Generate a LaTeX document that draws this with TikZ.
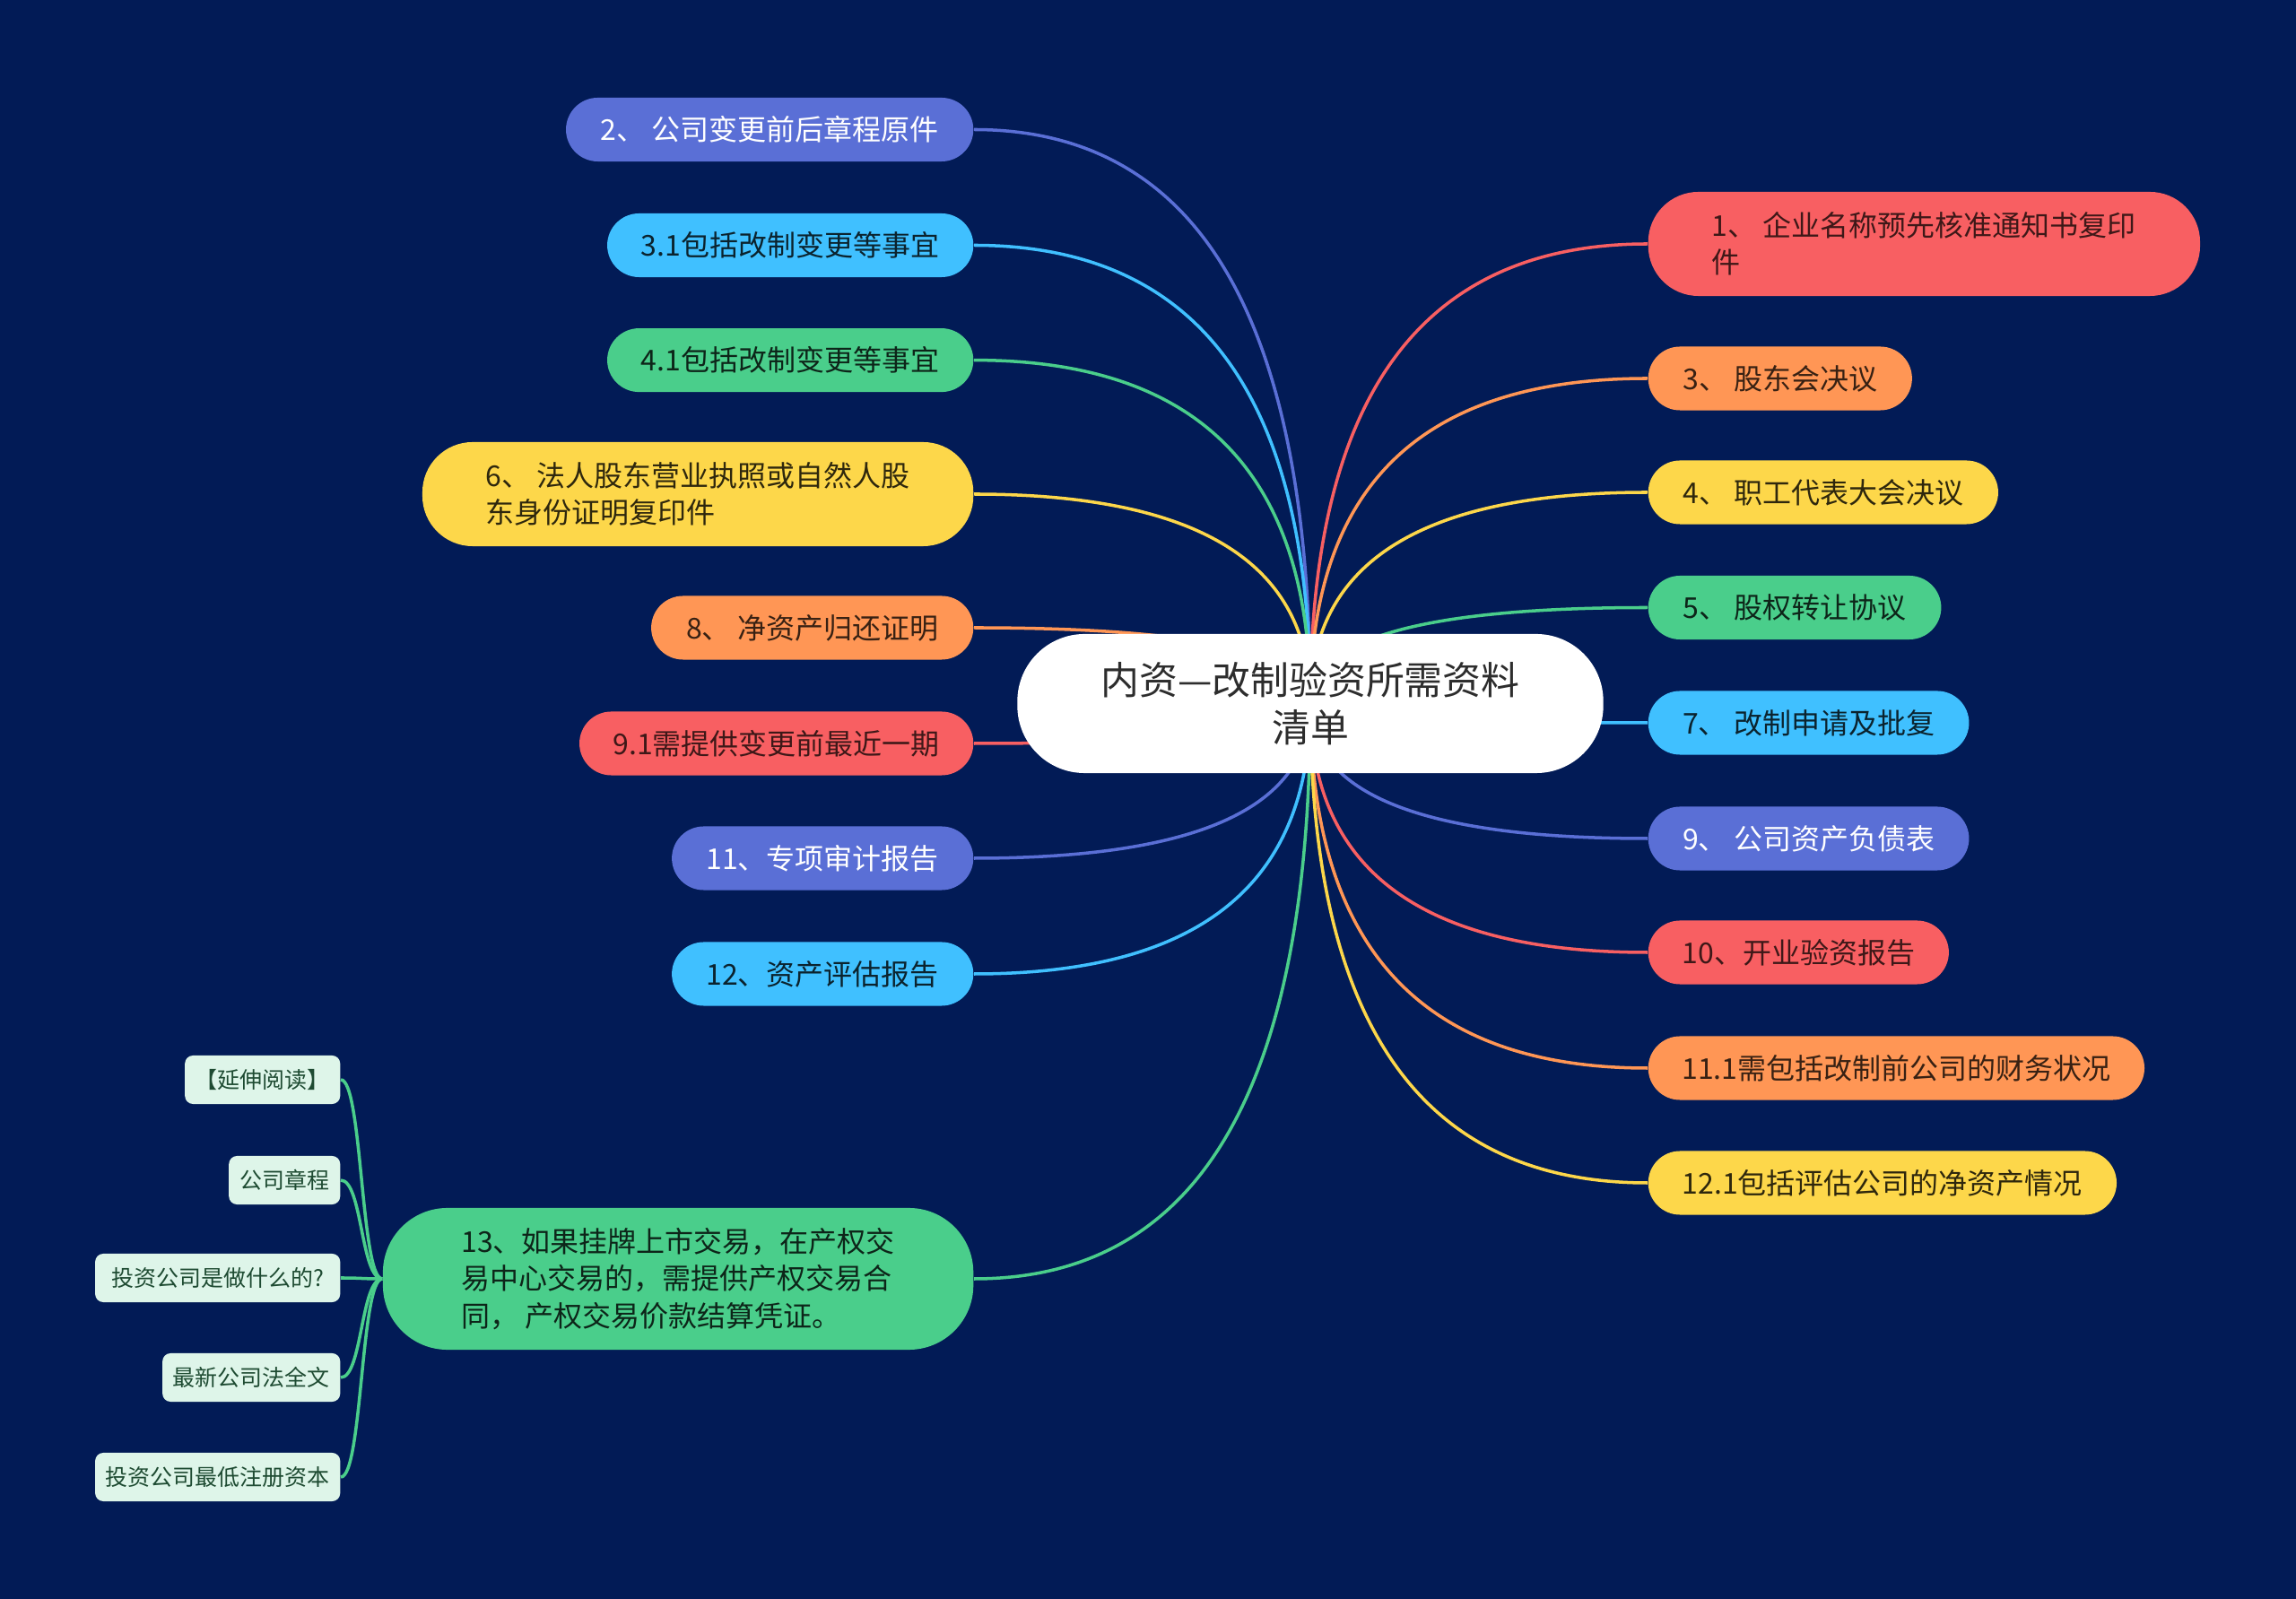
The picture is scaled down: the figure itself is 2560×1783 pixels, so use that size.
\documentclass[tikz,border=0pt]{standalone}
\usepackage{fontspec}
\newfontfamily\cjk{Noto Sans CJK SC}
\usetikzlibrary{calc}
\definecolor{bgnavy}{RGB}{2,27,86}
\definecolor{cpur}{RGB}{90,111,214}
\definecolor{cblu}{RGB}{64,192,255}
\definecolor{cgrn}{RGB}{74,206,139}
\definecolor{cyel}{RGB}{253,215,74}
\definecolor{cora}{RGB}{255,150,85}
\definecolor{cred}{RGB}{248,95,98}
\definecolor{subfill}{RGB}{222,245,233}
\definecolor{subtext}{RGB}{30,75,50}
\definecolor{ctext}{RGB}{45,45,45}
\pgfdeclarelayer{bg}\pgfdeclarelayer{lines}\pgfsetlayers{bg,lines,main}
\tikzset{
  base/.style={font=\cjk\fontsize{9.1pt}{11.7pt}\selectfont, inner sep=0pt, align=left},
  hone/.style={base, minimum height=0.71cm, rounded corners=0.355cm},
  htwo/.style={base, minimum height=1.16cm, rounded corners=0.56cm},
  hthree/.style={base, minimum height=1.58cm, rounded corners=0.72cm},
  fpur/.style={fill=cpur, text=white},
  fblu/.style={fill=cblu, text=cblu!18!black},
  fgrn/.style={fill=cgrn, text=cgrn!18!black},
  fyel/.style={fill=cyel, text=cyel!18!black},
  fora/.style={fill=cora, text=cora!22!black},
  fred/.style={fill=cred, text=cred!25!black},
  lnode/.style={anchor=east},
  rnode/.style={anchor=west},
  root/.style={fill=white, text=ctext, font=\cjk\fontsize{12.2pt}{15.1pt}\selectfont,
    align=center, minimum width=6.53cm, minimum height=1.55cm, rounded corners=0.75cm, inner sep=0pt},
  subbox/.style={fill=subfill, text=subtext, font=\cjk\fontsize{7.1pt}{9pt}\selectfont,
    minimum height=0.54cm, rounded corners=0.09cm, inner sep=0pt, anchor=east},
  link/.style={line width=1pt},
}
\newcommand\mmlink[2]{\draw[link,draw=#1] (c.center) .. controls ($(c.center)!0.67!(c.center|-#2)$) and ($(#2)!0.67!(c.center|-#2)$) .. (#2);}
\newcommand\mmsublink[1]{\draw[link,draw=cgrn] (L13.west) .. controls ($(L13.west)+(-24,0)$) and ($(#1.east)+(24,0)$) .. (#1.east);}
\begin{document}
\begin{tikzpicture}[x=0.01cm,y=-0.01cm]
\useasboundingbox (0,0) rectangle (2560,1783);
\begin{pgfonlayer}{bg}
\fill[bgnavy] (0,0) rectangle (2560,1783);
\end{pgfonlayer}

\node[root] (c) at (1461,784.5) {内资—改制验资所需资料\\清单};

% left branches
\node[hone,fpur,lnode,minimum width=4.54cm] (L2) at (1086,144.5) {2、 公司变更前后章程原件};
\node[hone,fblu,lnode,minimum width=4.08cm] (L31) at (1086,273.5) {3.1包括改制变更等事宜};
\node[hone,fgrn,lnode,minimum width=4.08cm] (L41) at (1086,401.6) {4.1包括改制变更等事宜};
\node[htwo,fyel,lnode,minimum width=6.14cm] (L6) at (1086,551) {6、 法人股东营业执照或自然人股\\东身份证明复印件};
\node[hone,fora,lnode,minimum width=3.59cm] (L8) at (1086,700) {8、 净资产归还证明};
\node[hone,fred,lnode,minimum width=4.39cm] (L91) at (1086,829) {9.1需提供变更前最近一期};
\node[hone,fpur,lnode,minimum width=3.36cm] (L11) at (1086,957) {11、专项审计报告};
\node[hone,fblu,lnode,minimum width=3.36cm] (L12) at (1086,1086) {12、资产评估报告};
\node[hthree,fgrn,lnode,minimum width=6.58cm] (L13) at (1086,1426) {13、如果挂牌上市交易，在产权交\\易中心交易的，需提供产权交易合\\同， 产权交易价款结算凭证。};

% right branches
\node[htwo,fred,rnode,minimum width=6.15cm] (R1) at (1837,272) {1、 企业名称预先核准通知书复印\\件};
\node[hone,fora,rnode,minimum width=2.94cm] (R3) at (1837,422) {3、 股东会决议};
\node[hone,fyel,rnode,minimum width=3.90cm] (R4) at (1837,549) {4、 职工代表大会决议};
\node[hone,fgrn,rnode,minimum width=3.265cm] (R5) at (1837,677.5) {5、 股权转让协议};
\node[hone,fblu,rnode,minimum width=3.575cm] (R7) at (1837,806) {7、 改制申请及批复};
\node[hone,fpur,rnode,minimum width=3.575cm] (R9) at (1837,935) {9、 公司资产负债表};
\node[hone,fred,rnode,minimum width=3.35cm] (R10) at (1837,1062) {10、开业验资报告};
\node[hone,fora,rnode,minimum width=5.53cm] (R111) at (1837,1191) {11.1需包括改制前公司的财务状况};
\node[hone,fyel,rnode,minimum width=5.22cm] (R121) at (1837,1319) {12.1包括评估公司的净资产情况};

% sub nodes of 13
\node[subbox,minimum width=1.73cm] (S1) at (380,1204) {【延伸阅读】};
\node[subbox,minimum width=1.24cm] (S2) at (380,1316) {公司章程};
\node[subbox,minimum width=2.73cm] (S3) at (380,1425) {投资公司是做什么的?};
\node[subbox,minimum width=1.98cm] (S4) at (380,1536) {最新公司法全文};
\node[subbox,minimum width=2.73cm] (S5) at (380,1647) {投资公司最低注册资本};

\begin{pgfonlayer}{lines}
\mmlink{cpur}{L2.east}
\mmlink{cblu}{L31.east}
\mmlink{cgrn}{L41.east}
\mmlink{cyel}{L6.east}
\mmlink{cora}{L8.east}
\mmlink{cred}{L91.east}
\mmlink{cpur}{L11.east}
\mmlink{cblu}{L12.east}
\mmlink{cgrn}{L13.east}
\mmlink{cred}{R1.west}
\mmlink{cora}{R3.west}
\mmlink{cyel}{R4.west}
\mmlink{cgrn}{R5.west}
\mmlink{cblu}{R7.west}
\mmlink{cpur}{R9.west}
\mmlink{cred}{R10.west}
\mmlink{cora}{R111.west}
\mmlink{cyel}{R121.west}
\mmsublink{S1}
\mmsublink{S2}
\mmsublink{S3}
\mmsublink{S4}
\mmsublink{S5}
\end{pgfonlayer}
\end{tikzpicture}
\end{document}
